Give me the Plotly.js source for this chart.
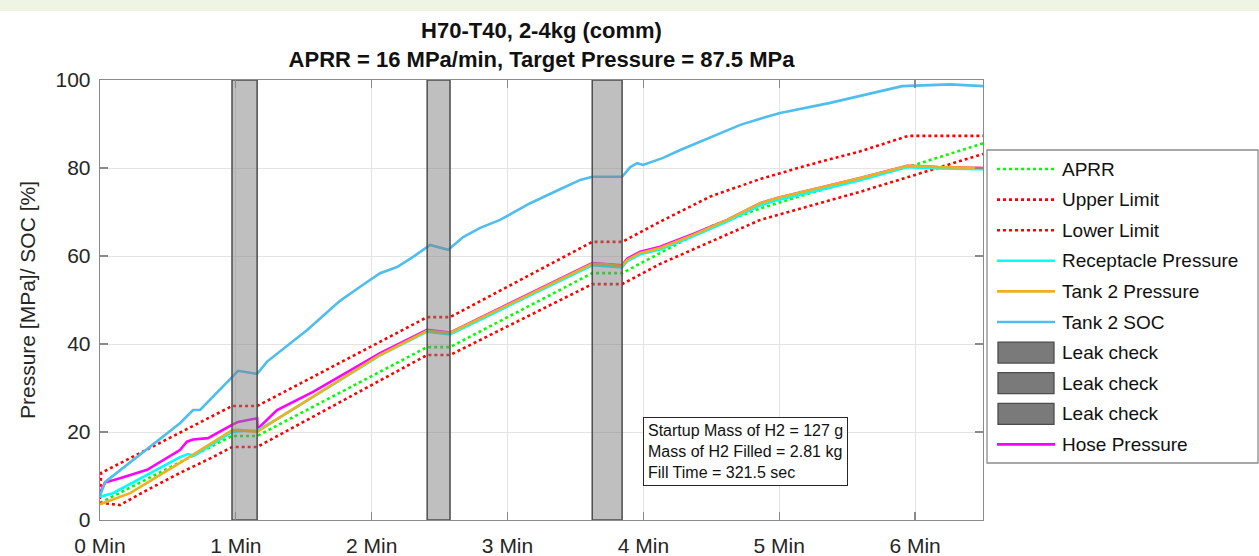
<!DOCTYPE html>
<html><head><meta charset="utf-8">
<script src="https://cdn.plot.ly/plotly-3.0.1.min.js"></script>
<style>html,body{margin:0;padding:0;background:#fff;overflow:hidden;} #chart{width:1259px;height:556px;}</style>
</head><body><div id="chart"></div>
<script>
// ---------- data (time in seconds, values in MPa or %) ----------
const seriesNames = ['APRR','Upper Limit','Lower Limit','Receptacle Pressure','Tank 2 Pressure','Tank 2 SOC','Leak check','Leak check','Leak check','Hose Pressure'];

const aprrTime  = [0, 58.3, 69.4, 144.5, 154.6, 217.4, 230.6, 247.4, 269.5, 291.6, 313.7, 335.8, 359.2, 390];
const aprrValue = [3.9, 19.1, 19.1, 39.3, 39.3, 56.1, 56.1, 60.7, 66.7, 70.8, 74.3, 77.5, 80.6, 85.6];

const upperTime  = [0, 0.5, 58.3, 69.4, 144.5, 154.6, 217.4, 230.6, 247.4, 269.5, 291.6, 313.7, 335.8, 357.0, 390];
const upperValue = [4.8, 10.7, 25.9, 25.9, 46.1, 46.1, 63.2, 63.2, 67.8, 73.5, 77.5, 80.8, 83.8, 87.3, 87.3];

const lowerTime  = [0, 8.8, 20.8, 35.3, 49.9, 58.3, 69.4, 144.5, 154.6, 217.4, 230.6, 247.4, 269.5, 291.6, 313.7, 335.8, 359.2, 390];
const lowerValue = [3.9, 3.4, 6.8, 10.7, 14.3, 16.6, 16.6, 37.5, 37.5, 53.6, 53.6, 58.2, 63.2, 68.2, 71.4, 74.6, 78.3, 83.2];

const receptacleTime  = [0, 5.7, 35.3, 38.9, 41.5, 58.3, 63.0, 69.4, 79.5, 123.7, 144.5, 154.6, 217.4, 230.6, 232.8, 238.6, 247.4, 262.0, 277.0, 291.6, 299.1, 313.7, 335.8, 356.6, 370.0, 390];
const receptacleValue = [5.3, 6.1, 14.3, 15.0, 14.6, 20.0, 20.3, 20.3, 23.3, 37.4, 42.8, 42.2, 57.9, 57.4, 58.8, 60.4, 61.5, 64.5, 67.8, 71.5, 72.7, 74.5, 77.2, 80.2, 79.9, 79.7];

const tankTime  = [0, 13.3, 35.3, 58.3, 61.0, 66.0, 69.4, 79.5, 123.7, 144.5, 149.5, 154.6, 217.4, 224.0, 230.6, 232.8, 238.6, 247.4, 262.0, 277.0, 291.6, 299.1, 313.7, 335.8, 356.6, 370.0, 390];
const tankValue = [3.6, 6.1, 13.0, 20.4, 20.5, 20.3, 20.0, 23.4, 37.5, 43.0, 42.8, 42.5, 58.2, 58.1, 57.7, 59.1, 60.7, 61.8, 64.8, 68.2, 72.0, 73.2, 75.0, 77.7, 80.5, 80.2, 80.0];

const socTime  = [0, 2.2, 35.3, 41.1, 44.2, 49.9, 58.3, 61.0, 69.4, 73.8, 91.5, 106.0, 114.9, 123.7, 131.2, 138.3, 145.8, 153.8, 160.4, 167.9, 176.7, 190.0, 204.6, 212.1, 217.4, 230.6, 234.2, 237.3, 239.9, 248.7, 256.3, 265.1, 273.9, 282.8, 291.6, 300.4, 322.5, 344.6, 354.3, 375.6, 390];
const socValue = [5.5, 8.6, 22.0, 25.0, 25.0, 28.0, 32.5, 33.9, 33.2, 36.0, 43.2, 49.8, 53.0, 56.1, 57.5, 59.8, 62.5, 61.4, 64.3, 66.4, 68.2, 72.0, 75.5, 77.3, 78.0, 78.0, 80.2, 81.1, 80.7, 82.3, 84.1, 86.0, 88.0, 89.8, 91.2, 92.5, 94.8, 97.5, 98.6, 99.0, 98.6];

const hoseTime  = [0, 2.2, 8.8, 20.8, 35.3, 38.4, 41.1, 47.7, 58.3, 61.0, 66.0, 69.4, 69.6, 78.2, 94.1, 109.1, 123.7, 144.5, 154.6, 217.4, 230.6, 232.8, 238.6, 247.4, 262.0, 277.0, 291.6, 299.1, 313.7, 335.8, 356.6, 370.0, 390];
const hoseValue = [6.1, 8.5, 9.5, 11.4, 15.9, 17.8, 18.3, 18.6, 21.6, 22.3, 22.8, 23.1, 20.7, 25.0, 29.1, 33.6, 37.9, 43.2, 42.6, 58.4, 57.9, 59.4, 61.0, 62.1, 65.0, 68.2, 72.0, 73.2, 75.0, 77.7, 80.5, 80.2, 80.0];

const leakStart = [58.3, 144.5, 217.4];
const leakEnd   = [69.4, 154.6, 230.6];

const xTickSeconds = [0, 60, 120, 180, 240, 300, 360];
const xTickLabels  = ['0 Min', '1 Min', '2 Min', '3 Min', '4 Min', '5 Min', '6 Min'];
const yTickValues  = [0, 20, 40, 60, 80, 100];

const titleLines = ['H70-T40, 2-4kg (comm)', 'APRR = 16 MPa/min, Target Pressure = 87.5 MPa'];
const infoLines  = ['Startup Mass of H2 = 127 g', 'Mass of H2 Filled = 2.81 kg', 'Fill Time = 321.5 sec'];
const yAxisTitle = 'Pressure [MPa]/ SOC [%]';

// ---------- styling ----------
const FONT = 'Liberation Sans, Arial, Helvetica, sans-serif';
const W = 1259, H = 556;
const M = {l: 100, r: 276, t: 80, b: 36};
const PW = W - M.l - M.r, PH = H - M.t - M.b;
const px2x = p => (p - M.l) / PW;
const py2y = p => (H - M.b - p) / PH;

const styles = [
  {kind: 'line', color: '#00ff00', dash: 'dot'},
  {kind: 'line', color: '#ff0000', dash: 'dot'},
  {kind: 'line', color: '#ff0000', dash: 'dot'},
  {kind: 'line', color: '#00ffff', dash: 'solid'},
  {kind: 'line', color: '#EDB120', dash: 'solid'},
  {kind: 'line', color: '#4DBEEE', dash: 'solid'},
  {kind: 'patch'}, {kind: 'patch'}, {kind: 'patch'},
  {kind: 'line', color: '#ff00ff', dash: 'solid'}
];

function lineTrace(i, x, y) {
  return {type: 'scatter', mode: 'lines', name: seriesNames[i], x: x, y: y,
          line: {color: styles[i].color, width: 2.6, dash: styles[i].dash}, showlegend: false};
}

const traces = [
  lineTrace(0, aprrTime, aprrValue),
  lineTrace(1, upperTime, upperValue),
  lineTrace(2, lowerTime, lowerValue),
  lineTrace(9, hoseTime, hoseValue),
  lineTrace(3, receptacleTime, receptacleValue),
  lineTrace(4, tankTime, tankValue),
  lineTrace(5, socTime, socValue)
];
leakStart.forEach((s, k) => {
  const e = leakEnd[k];
  traces.push({type: 'scatter', mode: 'lines', name: seriesNames[6 + k],
    x: [s, e, e, s, s], y: [0, 0, 100, 100, 0], fill: 'toself',
    fillcolor: 'rgba(128,128,128,0.5)', line: {color: '#4d4d4d', width: 1.5}, showlegend: false});
});

// ---------- custom legend (MATLAB style) ----------
const shapes = [];
const annotations = [];
shapes.push({type: 'rect', xref: 'paper', yref: 'paper', x0: px2x(987), x1: px2x(1258), y0: py2y(150), y1: py2y(463),
             line: {color: '#8c8c8c', width: 1.3}, fillcolor: '#ffffff', layer: 'above'});
seriesNames.forEach((name, i) => {
  const cy = 169 + i * 30.6;
  const st = styles[i];
  if (st.kind === 'line') {
    shapes.push({type: 'line', xref: 'paper', yref: 'paper', x0: px2x(997), x1: px2x(1055), y0: py2y(cy), y1: py2y(cy),
                 line: {color: st.color, width: 2.6, dash: st.dash}, layer: 'above'});
  } else {
    shapes.push({type: 'rect', xref: 'paper', yref: 'paper', x0: px2x(998), x1: px2x(1054), y0: py2y(cy - 10.5), y1: py2y(cy + 10.5),
                 line: {color: '#4d4d4d', width: 1.3}, fillcolor: '#7a7a7a', layer: 'above'});
  }
  annotations.push({xref: 'paper', yref: 'paper', x: px2x(1060), y: py2y(cy), xanchor: 'left', yanchor: 'middle',
                    text: name, showarrow: false, font: {family: FONT, size: 19, color: '#111'}});
});

// info box
annotations.push({xref: 'paper', yref: 'paper', x: px2x(643), y: py2y(417), xanchor: 'left', yanchor: 'top',
  text: infoLines.join('<br>'), align: 'left', showarrow: false, bgcolor: '#ffffff',
  bordercolor: '#262626', borderwidth: 1, borderpad: 4, font: {family: FONT, size: 16, color: '#111'}});

// slide background strip at top
shapes.push({type: 'rect', xref: 'paper', yref: 'paper', x0: px2x(0), x1: px2x(W), y0: py2y(11), y1: py2y(-2),
             line: {width: 0}, fillcolor: '#eef5e4', layer: 'below'});

const axisCommon = {
  showline: true, linecolor: '#8a8a8a', linewidth: 1.3, mirror: 'ticks',
  ticks: 'inside', ticklen: 8, tickwidth: 1.2, tickcolor: '#8a8a8a',
  showgrid: true, gridcolor: '#e4e4e4', gridwidth: 1, zeroline: false,
  tickfont: {family: FONT, size: 21, color: '#262626'}, fixedrange: true
};

const layout = {
  width: W, height: H, margin: M, paper_bgcolor: '#ffffff', plot_bgcolor: '#ffffff',
  showlegend: false,
  title: {text: titleLines.join('<br>'), font: {family: FONT, size: 22, color: '#111', weight: 'bold'},
          x: 0.5, xref: 'paper', xanchor: 'center', y: 1 - 38 / H, yref: 'container', yanchor: 'top'},
  xaxis: Object.assign({}, axisCommon, {range: [0, 390], tickmode: 'array', tickvals: xTickSeconds, ticktext: xTickLabels, ticklabelstandoff: 6}),
  yaxis: Object.assign({}, axisCommon, {range: [0, 100], tickmode: 'array', tickvals: yTickValues, ticklabelstandoff: 4,
          title: {text: yAxisTitle, font: {family: FONT, size: 21, color: '#262626'}, standoff: 14}}),
  shapes: shapes, annotations: annotations
};

Plotly.newPlot('chart', traces, layout, {staticPlot: true, displayModeBar: false});
</script></body></html>
